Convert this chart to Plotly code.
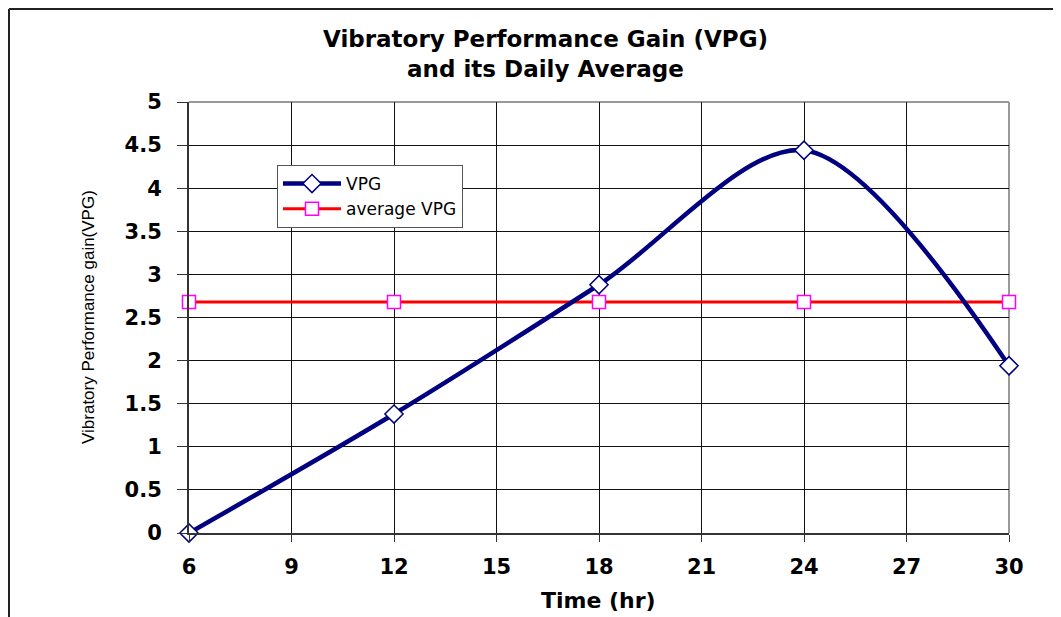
import plotly.graph_objects as go

# data
time_hr = [6, 12, 18, 24, 30]
vpg = [0.0, 1.38, 2.88, 4.44, 1.94]
avg_vpg = [2.68, 2.68, 2.68, 2.68, 2.68]
x_ticks = [6, 9, 12, 15, 18, 21, 24, 27, 30]
y_ticks = [0, 0.5, 1, 1.5, 2, 2.5, 3, 3.5, 4, 4.5, 5]
y_ticktext = ['0', '0.5', '1', '1.5', '2', '2.5', '3', '3.5', '4', '4.5', '5']

FONT = 'Liberation Sans, Arial, sans-serif'
WIDE = 'DejaVu Sans, Verdana, sans-serif'

fig = go.Figure()

fig.add_trace(go.Scatter(
    x=time_hr, y=avg_vpg,
    mode='lines+markers',
    name='average VPG',
    line=dict(color='#ff0000', width=3),
    marker=dict(symbol='square', size=13, color='white',
                line=dict(color='#ff00ff', width=1.5)),
    cliponaxis=False
))

fig.add_trace(go.Scatter(
    x=time_hr, y=vpg,
    mode='lines+markers',
    name='VPG',
    line=dict(color='#000080', width=4.5, shape='spline', smoothing=0.9),
    marker=dict(symbol='diamond', size=14, color='white',
                line=dict(color='#000080', width=1.5)),
    cliponaxis=False
))

# the page body adds 8px, so work in screenshot pixels and shift
OFF = 8
L, R, T, B = 189, 1009, 102, 533
W, H = 1061, 617
pw, ph = R - L, B - T

def px_x(x):
    return (x - L) / pw

def px_y(y):
    return (B - y) / ph

shapes = [
    # outer chart border (left and top only visible)
    dict(type='line', xref='paper', yref='paper', x0=px_x(9), x1=px_x(9),
         y0=px_y(9), y1=px_y(640), line=dict(color='#222', width=2)),
    dict(type='line', xref='paper', yref='paper', x0=px_x(9), x1=px_x(1080),
         y0=px_y(9), y1=px_y(9), line=dict(color='#222', width=2)),
    # grey top/right plot border
    dict(type='line', xref='paper', yref='paper', x0=0, x1=1, y0=1, y1=1,
         line=dict(color='#999', width=2), layer='below'),
    dict(type='line', xref='paper', yref='paper', x0=1, x1=1, y0=0, y1=1,
         line=dict(color='#999', width=2), layer='below'),
]

fig.update_layout(
    width=W, height=H,
    margin=dict(l=L - OFF, r=W - R + OFF, t=T - OFF, b=H - B + OFF),
    paper_bgcolor='white',
    plot_bgcolor='white',
    font=dict(family=FONT, color='black'),
    showlegend=True,
    legend=dict(
        x=px_x(277), y=px_y(165), xanchor='left', yanchor='top',
        bgcolor='white', bordercolor='#555', borderwidth=1,
        font=dict(size=17, family=WIDE),
        traceorder='reversed',
        itemwidth=58,
        tracegroupgap=0
    ),
    shapes=shapes,
    annotations=[
        dict(text='<b>Vibratory Performance Gain (VPG)<br>and its Daily Average</b>',
             xref='paper', yref='paper', x=px_x(545), y=px_y(54),
             xanchor='center', yanchor='middle', showarrow=False,
             font=dict(size=23, family=WIDE)),
        dict(text='Vibratory Performance gain(VPG)', textangle=-90,
             xref='paper', yref='paper', x=px_x(88), y=px_y(317),
             xanchor='center', yanchor='middle',
             showarrow=False, font=dict(size=17, family=FONT)),
        dict(text='<b>Time (hr)</b>', xref='paper', yref='paper',
             x=px_x(598), y=px_y(600), xanchor='center', yanchor='middle',
             showarrow=False, font=dict(size=22, family=WIDE)),
    ]
)

fig.update_xaxes(
    range=[6, 30],
    tickvals=x_ticks,
    ticks='outside', ticklen=7, tickcolor='#333',
    tickfont=dict(size=21, family=WIDE, weight='bold'),
    ticklabelstandoff=7,
    showgrid=True, gridcolor='#111', gridwidth=1,
    showline=True, linecolor='#333', linewidth=2,
    zeroline=False
)
fig.update_yaxes(
    range=[0, 5],
    tickvals=y_ticks, ticktext=y_ticktext,
    ticks='outside', ticklen=10, tickcolor='#333',
    tickfont=dict(size=21, family=WIDE, weight='bold'),
    ticklabelstandoff=11,
    showgrid=True, gridcolor='#111', gridwidth=1,
    showline=True, linecolor='#333', linewidth=2,
    zeroline=False
)

fig.write_html("out.html")
